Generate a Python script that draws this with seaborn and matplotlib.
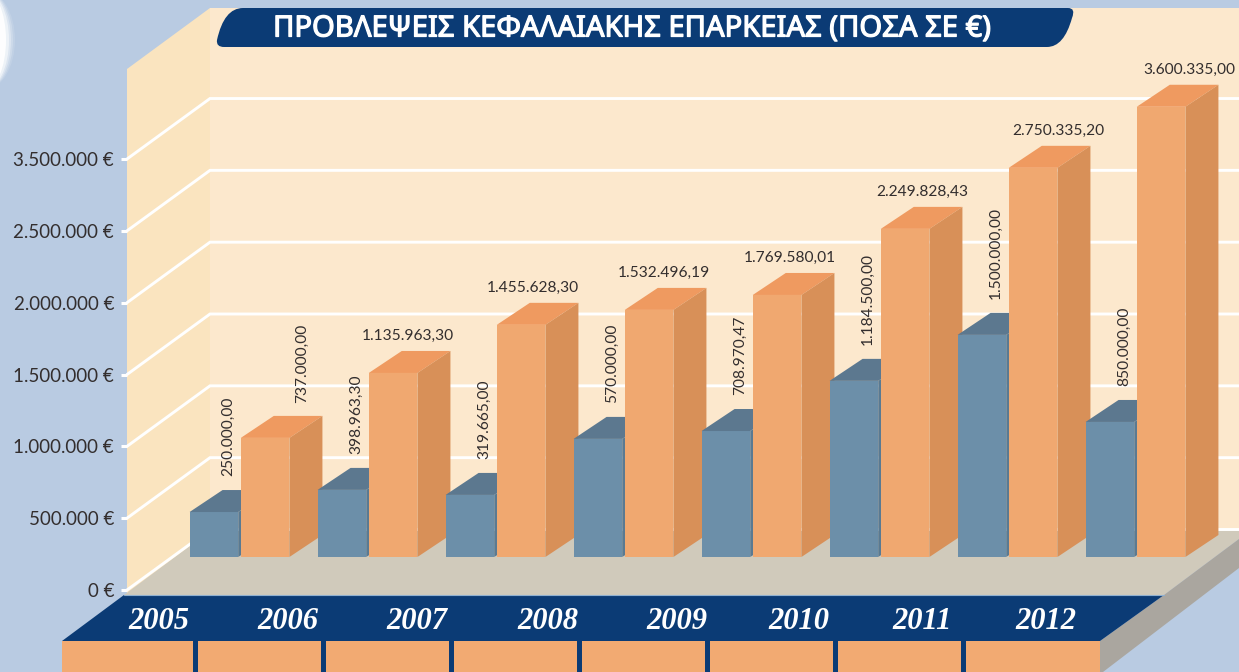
import numpy as np
import pandas as pd
import seaborn as sns
import matplotlib
matplotlib.use('Agg')
import matplotlib.pyplot as plt
import matplotlib.patheffects as pe
from matplotlib.patches import Polygon, PathPatch, Ellipse
from matplotlib.path import Path
from matplotlib.transforms import ScaledTranslation

years = ['2005', '2006', '2007', '2008', '2009', '2010', '2011', '2012']
# heights read against the drawn gridlines (the bars are not to scale with their printed amounts)
blue_heights = [313000, 467000, 432000, 822000, 877000, 1226000, 1546000, 940000]
orange_heights = [829000, 1281000, 1616000, 1720000, 1824000, 2284000, 2709000, 3134000]
blue_labels = ['250.000,00', '398.963,30', '319.665,00', '570.000,00',
               '708.970,47', '1.184.500,00', '1.500.000,00', '850.000,00']
orange_labels = ['737.000,00', '1.135.963,30', '1.455.628,30', '1.532.496,19',
                 '1.769.580,01', '2.249.828,43', '2.750.335,20', '3.600.335,00']
tick_values = [0, 500000, 1000000, 1500000, 2000000, 2500000, 3000000]
tick_labels = ['0 €', '500.000 €', '1.000.000 €', '1.500.000 €', '2.000.000 €', '2.500.000 €', '3.500.000 €']
title = 'ΠΡΟΒΛΕΨΕΙΣ ΚΕΦΑΛΑΙΑΚΗΣ ΕΠΑΡΚΕΙΑΣ (ΠΟΣΑ ΣΕ €)'

W, H = 1239, 672
PX_PER_UNIT = 71.83 / 500000
NAVY = '#0b3b75'
TEXT = '#332e2e'

sns.set_theme(style='white')
plt.rcParams['font.family'] = ['Lato', 'Noto Sans', 'DejaVu Sans']

fig = plt.figure(figsize=(W / 100, H / 100), dpi=100, facecolor='#b9cbe2')


def px_axes(left, top, right, bottom, z):
    a = fig.add_axes([left / W, 1 - bottom / H, (right - left) / W, (bottom - top) / H], zorder=z)
    a.patch.set_visible(False)
    return a


# scenery, in pixels
bg = px_axes(0, 0, W, H, 0)
bg.set_xlim(0, W)
bg.set_ylim(H, 0)
bg.axis('off')
for w, a in [(62, .12), (58, .2), (54, .3), (50, .5), (44, .9)]:
    bg.add_patch(Ellipse((-16, 40), w, 100, fc='white', ec='none', alpha=a))
bg.add_patch(Polygon([(210, 8), (W, 8), (W, 532), (210, 532)], fc='#fce8cd', ec='none'))
bg.add_patch(Polygon([(127, 69), (210, 8), (210, 532), (127, 594)], fc='#fae4bf', ec='none'))
bg.add_patch(Polygon([(124, 595), (210, 531), (W, 531), (W, 539), (1164, 595)], fc='#d0cabb', ec='none'))
bg.add_patch(Polygon([(1100, 641), (1164, 595), (W, 539), (W, 568), (1103, H), (1100, H)], fc='#aaa69f', ec='none'))
bg.add_patch(Polygon([(124, 595), (1164, 595), (1100, 641), (62, 641)], fc=NAVY, ec='none'))
bg.plot([124, 1164], [595, 595], color='#8fb0d0', lw=0.8)
bg.add_patch(Polygon([(62, 641), (1100, 641), (1100, H), (62, H)], fc='#f2aa72', ec='none'))
for x in range(193, 962, 128):
    bg.add_patch(Polygon([(x, 641), (x + 4.5, 641), (x + 4.5, H), (x, H)], fc=NAVY, ec='none'))

verts = [(217, 40), (224, 8), (243, 8), (1068, 8), (1076, 8), (1072, 18), (1064, 47), (1047, 47),
         (224, 47), (216, 47), (217, 40)]
codes = [Path.MOVETO, Path.CURVE3, Path.CURVE3, Path.LINETO, Path.CURVE3, Path.CURVE3,
         Path.CURVE3, Path.CURVE3, Path.LINETO, Path.CURVE3, Path.CURVE3]
bg.add_patch(PathPatch(Path(verts, codes), fc=NAVY, ec='none'))
bg.text(632.5, 29, title, color='white', fontsize=21, fontweight='bold', ha='center', va='center',
        family=['Noto Sans', 'DejaVu Sans'],
        path_effects=[pe.withStroke(linewidth=0.9, foreground='white')])

# left wall with the value axis and gridlines
wall = px_axes(127, 69, 210, 590, 1)
wall.set_xlim(0, 83)
wall.set_ylim(0, 521 / PX_PER_UNIT)
sns.despine(ax=wall, left=True, bottom=True)
wall.set_xticks([])
wall.set_yticks(tick_values)
wall.set_yticklabels(tick_labels, fontsize=13.5, color=TEXT)
wall.tick_params(axis='y', length=4.3, width=2.2, color='white', pad=5, left=True)
rise = 60.5 / PX_PER_UNIT
for v in tick_values:
    wall.plot([0, 83, W - 127], [v, v + rise, v + rise], color='white', lw=2.1, clip_on=False,
              solid_joinstyle='miter')

# bars
df = pd.DataFrame({'year': years * 2,
                   'height': blue_heights + orange_heights,
                   'series': ['a'] * 8 + ['b'] * 8})
ax = px_axes(175.5, 0, 1199.5, 557, 2)
sns.barplot(data=df, x='year', y='height', hue='series', palette=['#6c8fa9', '#f0a870'], saturation=1,
            width=0.8, gap=0.05, legend=False, linewidth=0, edgecolor='none', ax=ax)
ax.set_xlim(-0.5, 7.5)
ax.set_ylim(0, 557 / PX_PER_UNIT)
ax.set_xlabel('')
ax.set_ylabel('')
ax.set_yticks([])
sns.despine(ax=ax, left=True, bottom=True)
ax.tick_params(axis='x', length=0, pad=36)
ax.set_xticks(range(8))
ax.set_xticklabels(years, fontsize=22, color='white', fontweight='bold', style='italic',
                   family=['Liberation Serif', 'DejaVu Serif'])
year_dx = [-81, -80, -79, -76, -75, -81, -85, -90]
for lbl, d in zip(ax.get_xticklabels(), year_dx):
    lbl.set_transform(lbl.get_transform() + ScaledTranslation(d / 100, 0, fig.dpi_scale_trans))

# fake 3d faces built from the bars themselves
dx = 33 / 128
dy = 22 / PX_PER_UNIT
faces = [(ax.containers[0], '#5c788f', '#5a7a92', 0), (ax.containers[1], '#ef9a60', '#d89058', 1)]
for bars, top_c, side_c, k in faces:
    for i, r in enumerate(bars):
        x0, x1, h = r.get_x(), r.get_x() + r.get_width(), r.get_height()
        z = 3 + i * 2 + k
        r.set_zorder(z)
        ax.add_patch(Polygon([(x0, h), (x1, h), (x1 + dx, h + dy), (x0 + dx, h + dy)], fc=top_c, ec='none',
                             zorder=z, clip_on=False))
        ax.add_patch(Polygon([(x1, 0), (x1 + dx, dy), (x1 + dx, h + dy), (x1, h)], fc=side_c, ec='none',
                             zorder=z, clip_on=False))

# printed amounts
PT = 0.72
for i, r in enumerate(ax.containers[0]):
    ax.annotate(blue_labels[i], (r.get_x() + r.get_width() / 2, r.get_height()), xytext=(14 * PT, 36 * PT),
                textcoords='offset points', rotation=90, ha='center', va='bottom', fontsize=11.2,
                color=TEXT, zorder=40, annotation_clip=False)
orange_dx = [37, 14.5, 12, 15, 13, 17, 25, 28]
for i, r in enumerate(ax.containers[1]):
    rotated = i == 0
    ax.annotate(orange_labels[i], (r.get_x() + r.get_width() / 2, r.get_height()),
                xytext=(orange_dx[i] * PT, (35 if rotated else 37) * PT), textcoords='offset points',
                rotation=90 if rotated else 0, ha='center', va='bottom' if rotated else 'center', fontsize=11.2,
                color=TEXT, zorder=40, annotation_clip=False)

fig.savefig('out.png', dpi=100, facecolor=fig.get_facecolor())
plt.close()
